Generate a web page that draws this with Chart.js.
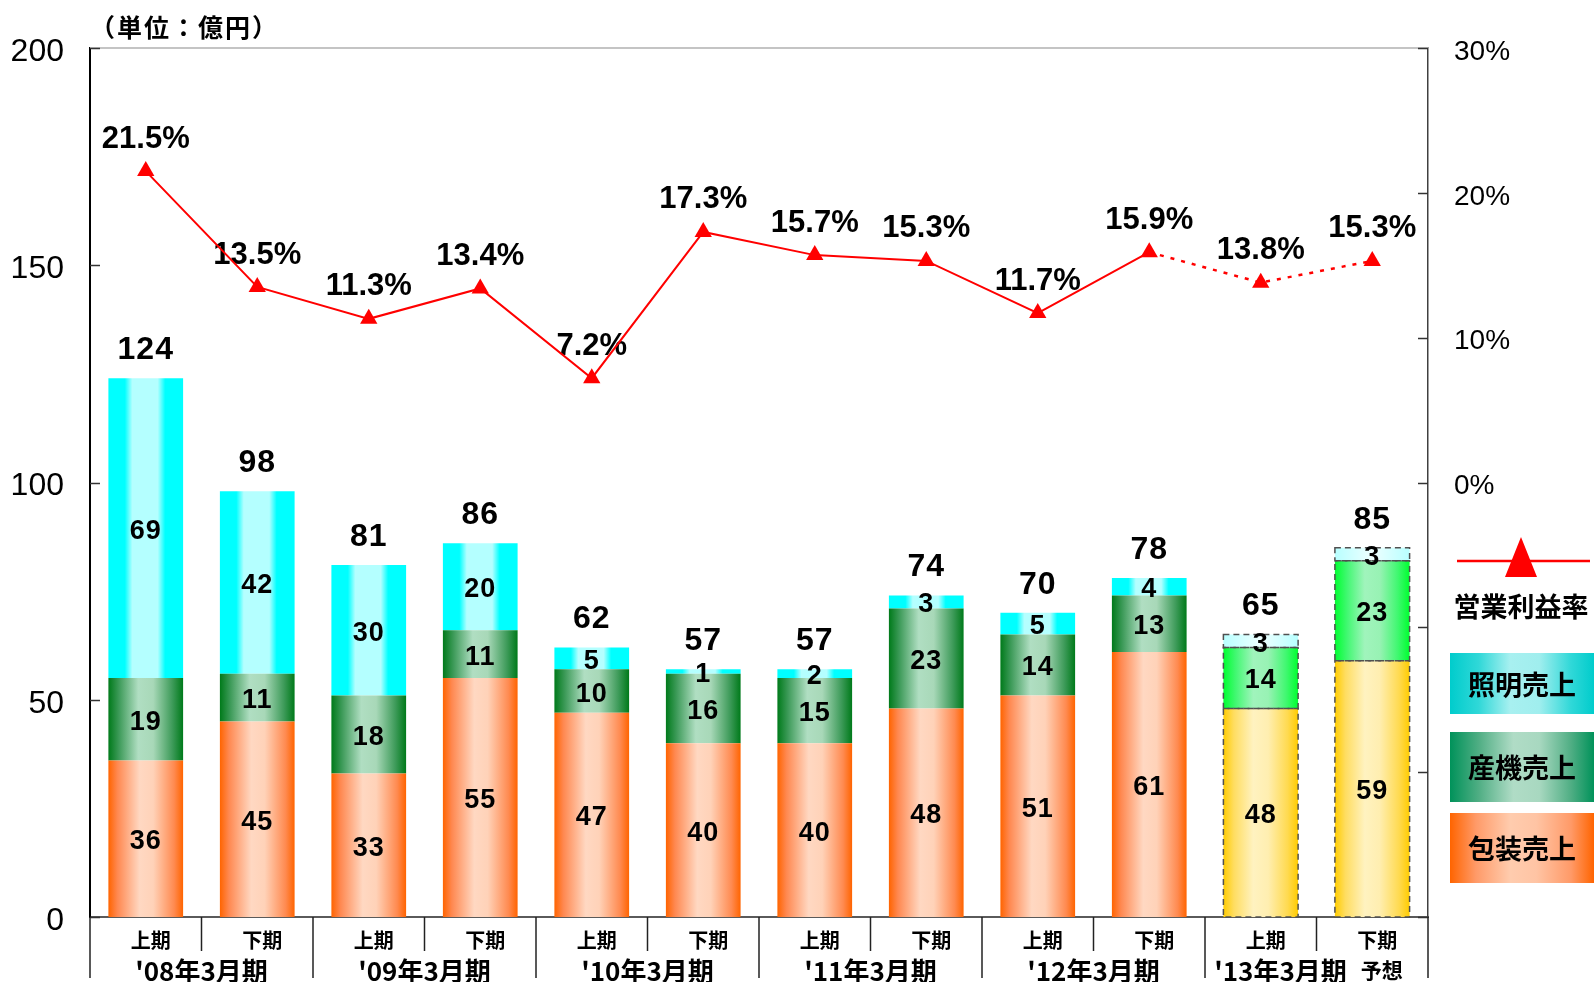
<!DOCTYPE html>
<html lang="ja"><head><meta charset="utf-8">
<script src="https://cdn.jsdelivr.net/npm/chart.js@4.4.0/dist/chart.umd.min.js"></script>
<style>html,body{margin:0;padding:0;background:#fff;}canvas{display:block;}</style>
</head><body>
<canvas id="c" width="1594" height="982"></canvas>
<script>
// ---- data ----
const halves = ['上期','下期','上期','下期','上期','下期','上期','下期','上期','下期','上期','下期'];
const fiscalYears = ["'08年3月期","'09年3月期","'10年3月期","'11年3月期","'12年3月期","'13年3月期"];
const forecastNote = '予想';
const packaging  = [36, 45, 33, 55, 47, 40, 40, 48, 51, 61, 48, 59];
const industrial = [19, 11, 18, 11, 10, 16, 15, 23, 14, 13, 14, 23];
const lighting   = [69, 42, 30, 20,  5,  1,  2,  3,  5,  4,  3,  3];
const totals     = [124, 98, 81, 86, 62, 57, 57, 74, 70, 78, 65, 85];
const opMargin   = [21.5, 13.5, 11.3, 13.4, 7.2, 17.3, 15.7, 15.3, 11.7, 15.9, 13.8, 15.3];
const isForecast = [false,false,false,false,false,false,false,false,false,false,true,true];
const salesTicks = [0, 50, 100, 150, 200];
const marginTicks = [-30, -20, -10, 0, 10, 20, 30];
const unitLabel = '（単位：億円）';

// ---- styles ----
const BAR_FRACTION = 0.67;
const NUM_FONT = "'Liberation Sans', Arial, sans-serif";
const JP_FONT = "'Noto Sans CJK JP', sans-serif";
const G = {
  pack:  [[0,'#FF6400'],[0.12,'#FF8850'],[0.42,'#FFD8C2'],[0.6,'#FFD2B8'],[0.88,'#FF8A50'],[1,'#FF6400']],
  packF: [[0,'#FFCC00'],[0.14,'#FFDD60'],[0.4,'#FFF2C0'],[0.6,'#FFEEB0'],[0.86,'#FFDA50'],[1,'#FFCC00']],
  ind:   [[0,'#007A1A'],[0.14,'#3C9A58'],[0.4,'#B0DEC2'],[0.6,'#A8D8B8'],[0.86,'#3C9A58'],[1,'#007A1A']],
  indF:  [[0,'#00FF30'],[0.16,'#40F870'],[0.4,'#A0F4BC'],[0.6,'#98F2B4'],[0.84,'#40F870'],[1,'#00FF30']],
  lig:   [[0,'#00FFFF'],[0.22,'#00FFFF'],[0.32,'#B4FFFF'],[0.66,'#B4FFFF'],[0.76,'#00FFFF'],[1,'#00FFFF']],
  ligF:  [[0,'#B8FFFF'],[0.5,'#EEFFFF'],[1,'#B8FFFF']]
};
function barGradient(normal, forecast) {
  return (ctx) => {
    const chart = ctx.chart, xs = chart.scales.x;
    const stops = (ctx.type === 'data' && isForecast[ctx.dataIndex]) ? forecast : normal;
    if (ctx.type !== 'data' || !xs) return stops[0][1];
    const cx = xs.getPixelForValue(ctx.dataIndex);
    const w = xs.width / halves.length * BAR_FRACTION;
    if (!Number.isFinite(cx) || !Number.isFinite(w) || w <= 0) return stops[0][1];
    const g = chart.ctx.createLinearGradient(cx - w / 2, 0, cx + w / 2, 0);
    for (const [o, c] of stops) g.addColorStop(o, c);
    return g;
  };
}

const decorPlugin = {
  id: 'decor',
  beforeDatasetDraw(chart, args) {
    if (args.index !== 3) return;
    const ctx = chart.ctx;
    // dashed outlines on forecast bars
    ctx.save();
    ctx.setLineDash([6, 4]);
    ctx.strokeStyle = '#505050';
    ctx.lineWidth = 1.5;
    for (let d = 0; d < 3; d++) {
      chart.getDatasetMeta(d).data.forEach((el, i) => {
        if (!isForecast[i]) return;
        const p = el.getProps(['x', 'y', 'base', 'width'], true);
        ctx.strokeRect(p.x - p.width / 2, p.y, p.width, p.base - p.y);
      });
    }
    ctx.restore();
    // segment labels
    ctx.save();
    ctx.fillStyle = '#000';
    ctx.textAlign = 'center';
    ctx.textBaseline = 'middle';
    ctx.font = 'bold 27px ' + NUM_FONT;
    ctx.letterSpacing = '1px';
    for (let d = 0; d < 3; d++) {
      const vals = chart.data.datasets[d].data;
      chart.getDatasetMeta(d).data.forEach((el, i) => {
        const p = el.getProps(['x', 'y', 'base'], true);
        ctx.fillText(String(vals[i]), p.x, (p.y + p.base) / 2 + 3);
      });
    }
    // totals
    ctx.font = 'bold 32px ' + NUM_FONT;
    chart.getDatasetMeta(2).data.forEach((el, i) => {
      const p = el.getProps(['x', 'y'], true);
      ctx.fillText(String(totals[i]), p.x, p.y - 28);
    });
    // margin labels
    ctx.font = 'bold 31px ' + NUM_FONT;
    ctx.letterSpacing = '0px';
    chart.getDatasetMeta(3).data.forEach((el, i) => {
      const p = el.getProps(['x', 'y'], true);
      ctx.fillText(opMargin[i].toFixed(1) + '%', p.x, p.y - 32);
    });
    ctx.restore();
  },
  afterDraw(chart) {
    const ctx = chart.ctx, a = chart.chartArea;
    const xs = chart.scales.x, ys = chart.scales.y, y1 = chart.scales.y1;
    ctx.save();
    // top frame line
    ctx.strokeStyle = '#C4C4C4';
    ctx.lineWidth = 2;
    ctx.beginPath(); ctx.moveTo(a.left, a.top); ctx.lineTo(a.right, a.top); ctx.stroke();
    // inward tick marks
    ctx.strokeStyle = '#333';
    ctx.lineWidth = 1.5;
    salesTicks.forEach(v => {
      const y = Math.round(ys.getPixelForValue(v)) + 0.5;
      ctx.beginPath(); ctx.moveTo(a.left, y); ctx.lineTo(a.left + 10, y); ctx.stroke();
    });
    marginTicks.forEach(v => {
      const y = Math.round(y1.getPixelForValue(v)) + 0.5;
      ctx.beginPath(); ctx.moveTo(a.right - 10, y); ctx.lineTo(a.right, y); ctx.stroke();
    });
    // category separators
    ctx.strokeStyle = '#222';
    ctx.lineWidth = 1.5;
    for (let i = 0; i <= halves.length; i++) {
      const x = xs.getPixelForValue(i - 0.5);
      const len = (i % 2 === 0) ? 61 : 34;
      ctx.beginPath(); ctx.moveTo(x, a.bottom); ctx.lineTo(x, a.bottom + len); ctx.stroke();
    }
    // fiscal-year labels
    ctx.fillStyle = '#000';
    ctx.textBaseline = 'middle';
    const yearFont = 'bold 26px ' + JP_FONT, noteFont = 'bold 21px ' + JP_FONT;
    fiscalYears.forEach((t, g) => {
      const x = (xs.getPixelForValue(2 * g) + xs.getPixelForValue(2 * g + 1)) / 2;
      const hasNote = isForecast[2 * g] || isForecast[2 * g + 1];
      ctx.font = yearFont;
      if (!hasNote) {
        ctx.textAlign = 'center';
        ctx.fillText(t, x, a.bottom + 54);
      } else {
        const w1 = ctx.measureText(t).width;
        ctx.font = noteFont;
        const w2 = ctx.measureText(forecastNote).width;
        const gap = 14, start = x - 8 - (w1 + gap + w2) / 2;
        ctx.textAlign = 'left';
        ctx.font = yearFont;
        ctx.fillText(t, start, a.bottom + 54);
        ctx.font = noteFont;
        ctx.fillText(forecastNote, start + w1 + gap, a.bottom + 53);
      }
    });
    // unit label
    ctx.textAlign = 'left';
    ctx.font = 'bold 25px ' + JP_FONT;
    ctx.letterSpacing = '2px';
    ctx.fillText(unitLabel, 90, 27);
    ctx.letterSpacing = '0px';
    // legend
    const lx = 1450, lw = 144;
    ctx.strokeStyle = '#FF0000';
    ctx.lineWidth = 2.5;
    ctx.beginPath(); ctx.moveTo(1457, 561); ctx.lineTo(1590, 561); ctx.stroke();
    ctx.fillStyle = '#FF0000';
    ctx.beginPath(); ctx.moveTo(1521, 537); ctx.lineTo(1537, 577); ctx.lineTo(1505, 577); ctx.closePath(); ctx.fill();
    ctx.fillStyle = '#000';
    ctx.textAlign = 'center';
    ctx.font = 'bold 27px ' + JP_FONT;
    ctx.fillText(chart.data.datasets[3].label, 1521, 607);
    const boxes = [
      {label: chart.data.datasets[2].label, top: 653, h: 61, stops: [[0,'#00CCCC'],[0.2,'#30D8D8'],[0.42,'#A8F0F0'],[0.62,'#A0EEEE'],[0.84,'#30D8D8'],[1,'#00CCCC']]},
      {label: chart.data.datasets[1].label, top: 732, h: 70, stops: [[0,'#00925A'],[0.2,'#50AE84'],[0.44,'#B0DCC6'],[0.62,'#A8D8C0'],[0.84,'#50AE84'],[1,'#00925A']]},
      {label: chart.data.datasets[0].label, top: 813, h: 70, stops: [[0,'#FF6400'],[0.18,'#FF9A68'],[0.42,'#FFCCAE'],[0.6,'#FFC4A4'],[0.84,'#FF9A68'],[1,'#FF6400']]}
    ];
    boxes.forEach(b => {
      const g = ctx.createLinearGradient(lx, 0, lx + lw, 0);
      b.stops.forEach(([o, c]) => g.addColorStop(o, c));
      ctx.fillStyle = g;
      ctx.fillRect(lx, b.top, lw, b.h);
      ctx.fillStyle = '#000';
      ctx.fillText(b.label, lx + lw / 2, b.top + b.h / 2 + 1);
    });
    ctx.restore();
  }
};

new Chart(document.getElementById('c'), {
  data: {
    labels: halves,
    datasets: [
      { type: 'bar', label: '包装売上', data: packaging, backgroundColor: barGradient(G.pack, G.packF), yAxisID: 'y', order: 1, borderWidth: 0 },
      { type: 'bar', label: '産機売上', data: industrial, backgroundColor: barGradient(G.ind, G.indF), yAxisID: 'y', order: 1, borderWidth: 0 },
      { type: 'bar', label: '照明売上', data: lighting, backgroundColor: barGradient(G.lig, G.ligF), yAxisID: 'y', order: 1, borderWidth: 0 },
      { type: 'line', label: '営業利益率', data: opMargin, yAxisID: 'y1', order: 0,
        borderColor: '#FF0000', borderWidth: 2, backgroundColor: '#FF0000',
        pointStyle: 'triangle', pointRadius: 10, pointBackgroundColor: '#FF0000', pointBorderWidth: 0,
        tension: 0, fill: false,
        segment: { borderDash: c => isForecast[c.p1DataIndex] ? [4, 7] : undefined,
                   borderWidth: c => isForecast[c.p1DataIndex] ? 2.5 : 2 } }
    ]
  },
  options: {
    responsive: false,
    animation: false,
    devicePixelRatio: 1,
    events: [],
    layout: { padding: { top: 48, left: 0, right: 0, bottom: 0 } },
    plugins: { legend: { display: false }, tooltip: { enabled: false } },
    datasets: { bar: { categoryPercentage: 1, barPercentage: BAR_FRACTION } },
    scales: {
      x: {
        stacked: true,
        offset: true,
        grid: { display: false },
        border: { display: true, color: '#5A5A5A', width: 2 },
        ticks: { color: '#000', font: { family: JP_FONT, size: 20, weight: 'bold' }, padding: 3, labelOffset: 5, maxRotation: 0, autoSkip: false },
        afterFit: s => { s.height = 65; }
      },
      y: {
        stacked: true,
        position: 'left',
        min: 0, max: 200,
        grid: { display: false },
        border: { display: true, color: '#000', width: 2 },
        afterBuildTicks: s => { s.ticks = salesTicks.map(v => ({ value: v })); },
        ticks: { color: '#000', font: { family: NUM_FONT, size: 32 }, padding: 18, labelOffset: 4 },
        afterFit: s => { s.width = 90; }
      },
      y1: {
        position: 'right',
        min: -30, max: 30,
        grid: { display: false },
        border: { display: true, color: '#404040', width: 1.5 },
        afterBuildTicks: s => { s.ticks = marginTicks.map(v => ({ value: v })); },
        ticks: { color: '#000', font: { family: NUM_FONT, size: 28 }, padding: 18, labelOffset: 4,
                 callback: v => v < 0 ? '' : v + '%' },
        afterFit: s => { s.width = 166; }
      }
    }
  },
  plugins: [decorPlugin]
});
</script>
</body></html>
